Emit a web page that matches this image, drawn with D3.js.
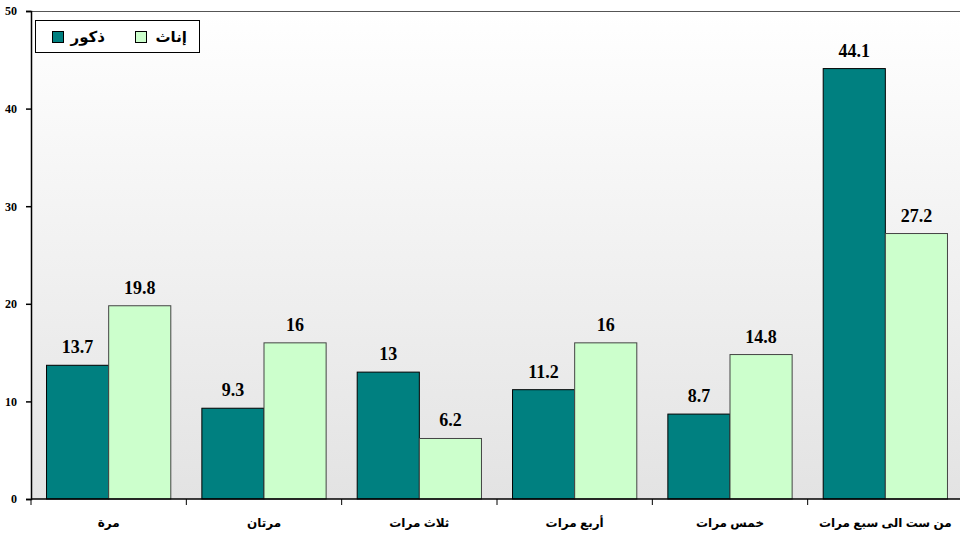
<!DOCTYPE html>
<html>
<head>
<meta charset="utf-8">
<script src="https://cdn.jsdelivr.net/npm/d3@7"></script>
<style>
body { margin: 0; background: #fff; }
svg { display: block; }
.val { font-family: "Liberation Serif", "Times New Roman", serif; font-weight: bold; font-size: 18px; fill: #000; }
.ytick { font-family: "Liberation Serif", "Times New Roman", serif; font-weight: bold; font-size: 12px; fill: #000; }
.cat { font-family: "Liberation Sans", Arial, "DejaVu Sans", sans-serif; font-weight: bold; font-size: 12px; fill: #000; }
</style>
</head>
<body>
<svg id="chart" width="960" height="540"></svg>
<script>
// categories (times) and the two series
var categories = ['مرة', 'مرتان', 'ثلاث مرات', 'أربع مرات', 'خمس مرات', 'من ست الى سبع مرات'];
var males = [13.7, 9.3, 13, 11.2, 8.7, 44.1];
var females = [19.8, 16, 6.2, 16, 14.8, 27.2];
var seriesNames = ['ذكور', 'إناث'];
var yTicks = [0, 10, 20, 30, 40, 50];

var colors = ['#008080', '#ccffcc'];

var svg = d3.select('#chart');
var plotLeft = 31, plotTop = 11, plotBottom = 499, plotRight = 963;

var x = d3.scaleBand().domain(categories).range([plotLeft, plotRight]);
var xs = d3.scaleBand().domain([0, 1]).range([0, x.bandwidth()]).paddingOuter(0.25).paddingInner(0);
var y = d3.scaleLinear().domain([0, 50]).range([plotBottom, plotTop]);

// plot background gradient
var grad = svg.append('defs').append('linearGradient')
	.attr('id', 'bg').attr('x1', 0).attr('y1', 0).attr('x2', 0).attr('y2', 1);
grad.append('stop').attr('offset', '0%').attr('stop-color', '#ffffff');
grad.append('stop').attr('offset', '100%').attr('stop-color', '#e3e3e3');
svg.append('rect')
	.attr('x', plotLeft).attr('y', plotTop)
	.attr('width', plotRight - plotLeft).attr('height', plotBottom - plotTop)
	.attr('fill', 'url(#bg)');

// top border of plot area
svg.append('line')
	.attr('x1', plotLeft).attr('y1', plotTop + 0.5).attr('x2', plotRight).attr('y2', plotTop + 0.5)
	.attr('stroke', '#555').attr('stroke-width', 1);

// bars
var data = categories.map(function(c, i) { return { cat: c, vals: [males[i], females[i]] }; });
var groups = svg.append('g').selectAll('g')
	.data(data).enter()
	.append('g')
	.attr('transform', function(d) { return 'translate(' + x(d.cat) + ',0)'; });

groups.selectAll('rect')
	.data(function(d) { return d.vals.map(function(v, k) { return { k: k, v: v }; }); })
	.enter().append('rect')
		.attr('x', function(d) { return xs(d.k); })
		.attr('y', function(d) { return y(d.v); })
		.attr('width', xs.bandwidth())
		.attr('height', function(d) { return plotBottom - y(d.v); })
		.attr('fill', function(d) { return colors[d.k]; })
		.attr('stroke', function(d) { return d.k === 0 ? '#000' : '#444'; })
		.attr('stroke-width', 1);

groups.selectAll('text')
	.data(function(d) { return d.vals.map(function(v, k) { return { k: k, v: v }; }); })
	.enter().append('text')
		.attr('class', 'val')
		.attr('x', function(d) { return xs(d.k) + xs.bandwidth() / 2; })
		.attr('y', function(d) { return y(d.v) - 12; })
		.attr('text-anchor', 'middle')
		.text(function(d) { return d.v; });

// y axis
var yAxis = svg.append('g')
	.attr('transform', 'translate(' + plotLeft + ',0)')
	.call(d3.axisLeft(y).tickValues(yTicks).tickSize(5).tickPadding(9));
yAxis.select('.domain').attr('stroke', '#000').attr('stroke-width', 1.5);
yAxis.selectAll('.tick line').attr('stroke', '#000').attr('stroke-width', 1.5);
yAxis.selectAll('.tick text').attr('class', 'ytick');

// x axis: ticks at category boundaries
var xAxisG = svg.append('g');
xAxisG.append('line')
	.attr('x1', plotLeft).attr('y1', plotBottom).attr('x2', plotRight).attr('y2', plotBottom)
	.attr('stroke', '#000').attr('stroke-width', 1.5);
xAxisG.selectAll('line.b')
	.data(categories).enter()
	.append('line').attr('class', 'b')
	.attr('x1', function(d) { return x(d); })
	.attr('x2', function(d) { return x(d); })
	.attr('y1', plotBottom).attr('y2', plotBottom + 6)
	.attr('stroke', '#000').attr('stroke-width', 1);
xAxisG.selectAll('text')
	.data(categories).enter()
	.append('text')
	.attr('class', 'cat')
	.attr('x', function(d) { return x(d) + x.bandwidth() / 2; })
	.attr('y', plotBottom + 28)
	.attr('text-anchor', 'middle')
	.text(function(d) { return d; });

// legend
var legend = svg.append('g').attr('transform', 'translate(35,20)');
legend.append('rect')
	.attr('x', 0.5).attr('y', 0.5).attr('width', 164).attr('height', 32)
	.attr('fill', '#fff').attr('stroke', '#000').attr('stroke-width', 1);
var legendX = [17, 100];
var legendTextX = [70, 152];
seriesNames.forEach(function(name, i) {
	legend.append('rect')
		.attr('x', legendX[i] + 0.5).attr('y', 11.5)
		.attr('width', 11).attr('height', 11)
		.attr('fill', colors[i]).attr('stroke', '#000').attr('stroke-width', 1);
	legend.append('text')
		.attr('class', 'cat')
		.style('font-size', '15px')
		.attr('x', legendTextX[i])
		.attr('y', 22)
		.attr('text-anchor', 'end')
		.text(name);
});
</script>
</body>
</html>
